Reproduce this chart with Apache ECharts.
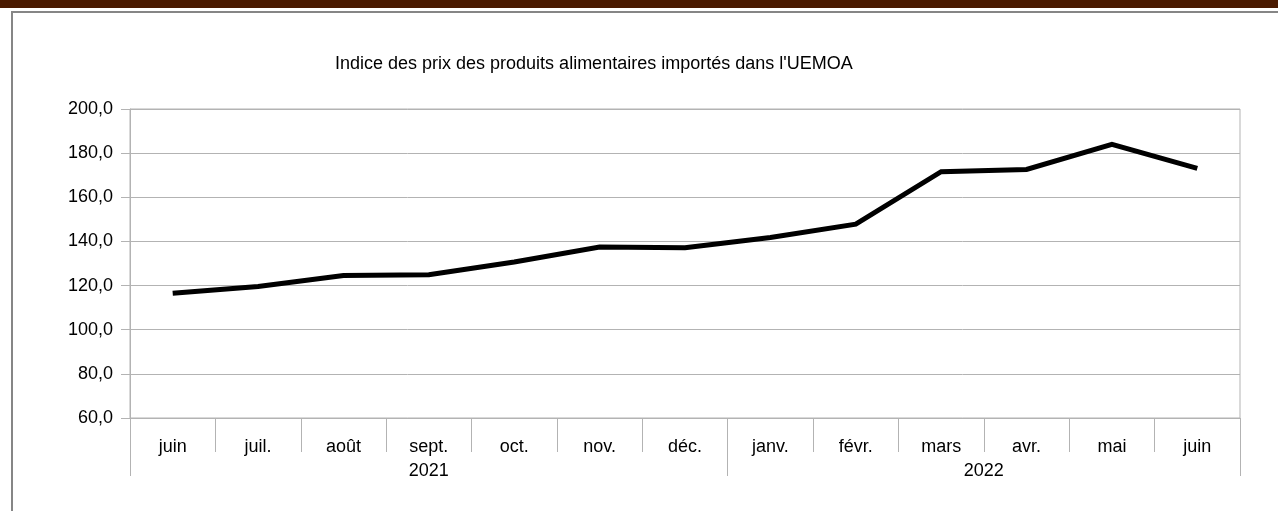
<!DOCTYPE html>
<html lang="fr">
<head>
    <meta charset="UTF-8">
    <title>Indice des prix des produits alimentaires importés dans l'UEMOA</title>
    <style type="text/css">
        html, body {
            margin: 0;
            padding: 0;
            background: #fff;
        }
        /*bandeau du haut*/
        .topBand {
            position: absolute;
            left: 0;
            top: 0;
            width: 1278px;
            height: 8px;
            background-color: #4a1a00;
        }
        /*cadre du graphique*/
        .chartFrame {
            position: absolute;
            left: 11px;
            top: 11px;
            width: 1300px;
            height: 600px;
            border-left: 2px solid #868686;
            border-top: 2px solid #868686;
        }
        #chart {
            position: absolute;
            left: 0;
            top: 0;
            width: 1278px;
            height: 511px;
        }
    </style>
</head>
<body>
<div class="topBand"></div>
<div class="chartFrame"></div>
<div id="chart"></div>

<script src="https://cdn.jsdelivr.net/npm/echarts@6/dist/echarts.min.js"></script>
<script type="text/javascript">
    // mois (axe des catégories)
    var months = ['juin', 'juil.', 'août', 'sept.', 'oct.', 'nov.', 'déc.',
        'janv.', 'févr.', 'mars', 'avr.', 'mai', 'juin'];
    // années : libellé, position du centre et limites des groupes (en nombre de mois)
    var years = ['2021', '2022'];
    var yearCenters = [3.5, 10];
    var yearBounds = [0, 7, 13];
    // indice des prix
    var priceIndex = [116.5, 119.6, 124.6, 124.9, 130.7, 137.5, 137.1,
        141.8, 147.8, 171.6, 172.6, 184.0, 173.1];

    var gray = '#b3b3b3';
    var font = 'Liberation Sans, Arial, sans-serif';
    var fontSize = 18;

    var chart = echarts.init(document.getElementById('chart'));

    var option = {
        animation: false,
        textStyle: { fontFamily: font },
        title: {
            text: "Indice des prix des produits alimentaires importés dans l'UEMOA",
            left: 330,
            top: 50,
            textStyle: { fontSize: fontSize, fontWeight: 'normal', color: '#000', fontFamily: font }
        },
        grid: {
            left: 130,
            right: 38,
            top: 109,
            bottom: 93,
            show: true,
            borderColor: gray,
            borderWidth: 1
        },
        xAxis: [
            {
                type: 'category',
                data: months,
                boundaryGap: true,
                axisLine: { lineStyle: { color: gray, width: 1 } },
                axisTick: { show: true, interval: 0, length: 34, lineStyle: { color: gray } },
                axisLabel: { interval: 0, margin: 20, fontSize: fontSize, color: '#000' },
                splitLine: { show: false }
            },
            {
                type: 'value',
                min: 0,
                max: 13,
                position: 'bottom',
                offset: 0,
                axisLine: { show: false },
                splitLine: { show: false },
                axisTick: {
                    show: true,
                    customValues: yearBounds,
                    length: 58,
                    lineStyle: { color: gray }
                },
                axisLabel: {
                    show: true,
                    customValues: yearCenters,
                    margin: 44,
                    fontSize: fontSize,
                    color: '#000',
                    formatter: function (v) {
                        var i = yearCenters.indexOf(v);
                        return i >= 0 ? years[i] : '';
                    }
                }
            }
        ],
        yAxis: {
            type: 'value',
            min: 60,
            max: 200,
            interval: 20,
            axisLine: { show: true, lineStyle: { color: gray } },
            axisTick: { show: true, length: 9, lineStyle: { color: gray } },
            axisLabel: {
                margin: 17,
                fontSize: fontSize,
                color: '#000',
                formatter: function (v) { return v.toFixed(1).replace('.', ','); }
            },
            splitLine: { lineStyle: { color: gray } }
        },
        series: [
            {
                type: 'line',
                xAxisIndex: 0,
                data: priceIndex,
                symbol: 'none',
                lineStyle: { color: '#000', width: 5, join: 'miter' }
            }
        ]
    };

    chart.setOption(option);
</script>
</body>
</html>
